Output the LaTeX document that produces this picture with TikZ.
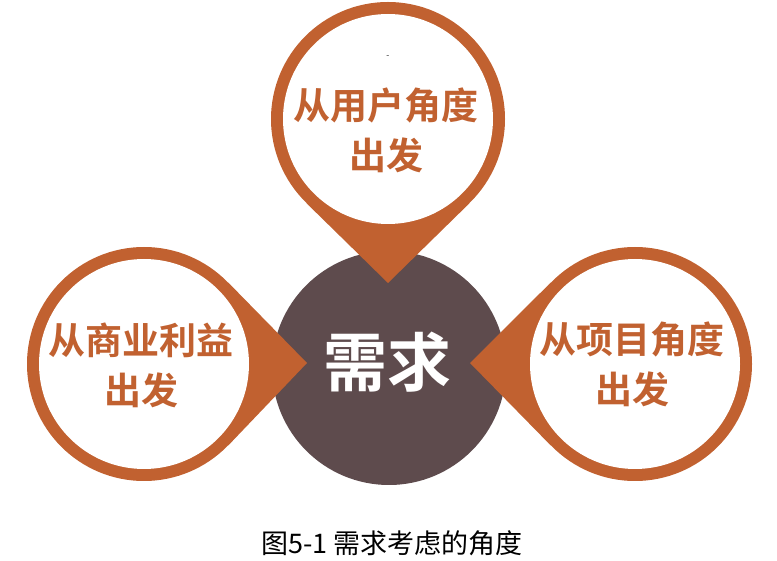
\documentclass[tikz,border=0pt]{standalone}
\usepackage{fontspec}
\newfontfamily\cjk{Noto Sans CJK SC}[BoldFont={Noto Sans CJK SC Bold}]
\definecolor{rust}{RGB}{193,97,48}
\definecolor{plum}{RGB}{94,75,77}
\tikzset{
  outer/.style={circle, fill=rust, minimum size=234pt, inner sep=0pt},
  inner/.style={circle, fill=white, minimum size=210pt, inner sep=0pt},
  core/.style={circle, fill=plum, minimum size=234pt, inner sep=0pt},
  lbl/.style={text=rust, align=center, font=\cjk\bfseries\fontsize{37}{50}\selectfont},
  corelbl/.style={text=white, font=\cjk\bfseries\fontsize{64}{70}\selectfont},
  captionstyle/.style={text=black, font=\cjk\fontsize{27}{30}\selectfont}
}
\begin{document}
\begin{tikzpicture}[x=1pt,y=1pt]
\useasboundingbox (0,0) rectangle (777,560);
% central circle
\node[core] (need) at (389,192) {};
% teardrop: top
\node[outer] (ot) at (388,441) {};
\coordinate (tt) at (388,277);
\fill[rust] (ot.{-90-44}) -- (tt) -- (ot.{-90+44}) -- (ot.center) -- cycle;
% teardrop: left
\node[outer] (ol) at (144,196) {};
\coordinate (tl) at (307,197);
\fill[rust] (ol.{44}) -- (tl) -- (ol.{-44}) -- (ol.center) -- cycle;
% teardrop: right
\node[outer] (or) at (635,196) {};
\coordinate (tr) at (470,197);
\fill[rust] (or.{180-44}) -- (tr) -- (or.{180+44}) -- (or.center) -- cycle;
% white insides
\node[inner] (it) at (ot.center) {};
\node[inner] (il) at (ol.center) {};
\node[inner] (ir) at (or.center) {};
% labels
\node[lbl] (lt) at (386,430) {从用户角度\\出发};
\node[lbl] (ll) at (141,195) {从商业利益\\出发};
\node[lbl] (lr) at (632,196) {从项目角度\\出发};
\node[corelbl] (lc) at (387,198) {需求};
\node[font=\fontsize{8}{8}\selectfont, inner sep=0pt] (dash) at (388,503) {-};
\node[captionstyle] (caption) at (392,17) {图5-1 需求考虑的角度};
\end{tikzpicture}
\end{document}
